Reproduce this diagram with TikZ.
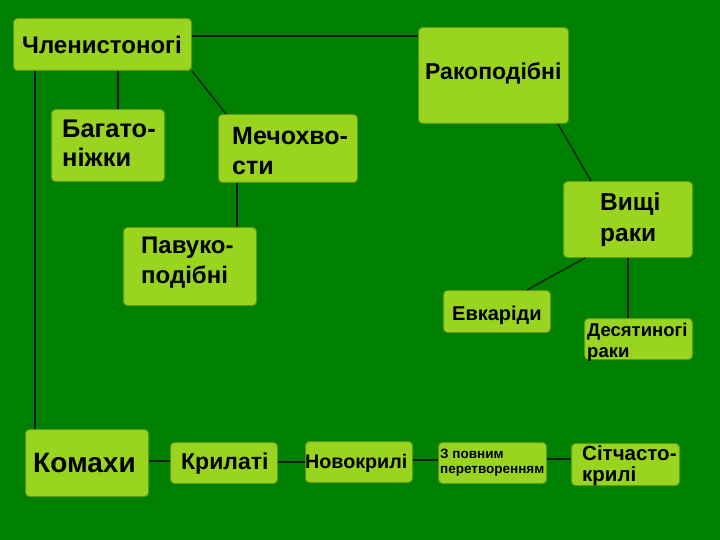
\documentclass[tikz,border=0pt]{standalone}
\usepackage{fontspec}
\setmainfont{Liberation Sans}
\definecolor{bg}{HTML}{008000}
\definecolor{boxfill}{HTML}{99D51E}
\definecolor{boxedge}{HTML}{5E9A12}
\definecolor{linec}{HTML}{102010}
\tikzset{
  box/.style={draw=boxedge, line width=1pt, fill=boxfill, rounded corners=4pt, anchor=north west, inner sep=0pt},
  txt/.style={anchor=west, inner sep=0pt, align=left, text=black},
  conn/.style={draw=linec, line width=1.3pt},
}
\newcommand{\fs}[2]{\fontsize{#1}{#2}\bfseries}
\begin{document}
\begin{tikzpicture}[x=1pt,y=-1pt]
\fill[bg] (0,0) rectangle (720,540);
\useasboundingbox (0,0) rectangle (720,540);
% boxes
\node[box, minimum width=178, minimum height=52] (chl) at (13,18) {};
\node[box, minimum width=150, minimum height=96] (rak) at (418,27) {};
\node[box, minimum width=113, minimum height=72] (bag) at (51,109) {};
\node[box, minimum width=139, minimum height=68] (mech) at (218,114) {};
\node[box, minimum width=133, minimum height=78] (pav) at (123,227) {};
\node[box, minimum width=129, minimum height=76] (vys) at (563,181) {};
\node[box, minimum width=107, minimum height=42] (evk) at (443,290) {};
\node[box, minimum width=108, minimum height=41] (des) at (584,318) {};
\node[box, minimum width=123, minimum height=67] (kom) at (25,429) {};
\node[box, minimum width=107, minimum height=41] (kry) at (170,442) {};
\node[box, minimum width=107, minimum height=41] (nov) at (305,441) {};
\node[box, minimum width=108, minimum height=41] (zpv) at (438,442) {};
\node[box, minimum width=108, minimum height=42] (sit) at (571,443) {};
% texts
\node[txt, font=\fs{24}{24}] (tchl) at (22,45) {Членистоногі};
\node[txt, font=\fs{23}{23}] (trak) at (425,73) {Ракоподібні};
\node[txt, font=\fs{25.5}{29}] (tbag) at (62,143) {Багато-\\ніжки};
\node[txt, font=\fs{25}{30}] (tmech) at (232,151) {Мечохво-\\сти};
\node[txt, font=\fs{24}{30}] (tpav) at (141,263) {Павуко-\\подібні};
\node[txt, font=\fs{24.5}{31}] (tvys) at (600,220) {Вищі\\раки};
\node[txt, font=\fs{20}{20}] (tevk) at (452,315) {Евкаріди};
\node[txt, font=\fs{18.5}{21}] (tdes) at (587,342) {Десятиногі\\раки};
\node[txt, font=\fs{28}{28}] (tkom) at (33,463) {Комахи};
\node[txt, font=\fs{23}{23}] (tkry) at (181,464) {Крилаті};
\node[txt, font=\fs{19.7}{20}] (tnov) at (305,463) {Новокрилі};
\node[txt, font=\fs{13.5}{15}] (tzpv) at (440,463) {З повним\\перетворенням};
\node[txt, font=\fs{20.5}{21}] (tsit) at (582,466) {Сітчасто-\\крилі};
% connectors
\draw[conn] (chl.east |- 0,36) -- (rak.west |- 0,36);
\draw[conn] (chl.south -| 118,0) -- (bag.north -| 118,0);
\draw[conn] (chl.south east) -- (mech.north west -| 226,0);
\draw[conn] (chl.south -| 35,0) -- (kom.north -| 35,0);
\draw[conn] (mech.south -| 237,0) -- (pav.north -| 237,0);
\draw[conn] (rak.south -| 558,0) -- (vys.north -| 591,0);
\draw[conn] (vys.south -| 585,0) -- (evk.north -| 527,0);
\draw[conn] (vys.south -| 628,0) -- (des.north -| 628,0);
\draw[conn] (kom.east |- 0,461) -- (kry.west |- 0,461);
\draw[conn] (kry.east |- 0,462) -- (nov.west |- 0,462);
\draw[conn] (nov.east |- 0,460) -- (zpv.west |- 0,460);
\draw[conn] (zpv.east |- 0,459) -- (sit.west |- 0,459);
\end{tikzpicture}
\end{document}
